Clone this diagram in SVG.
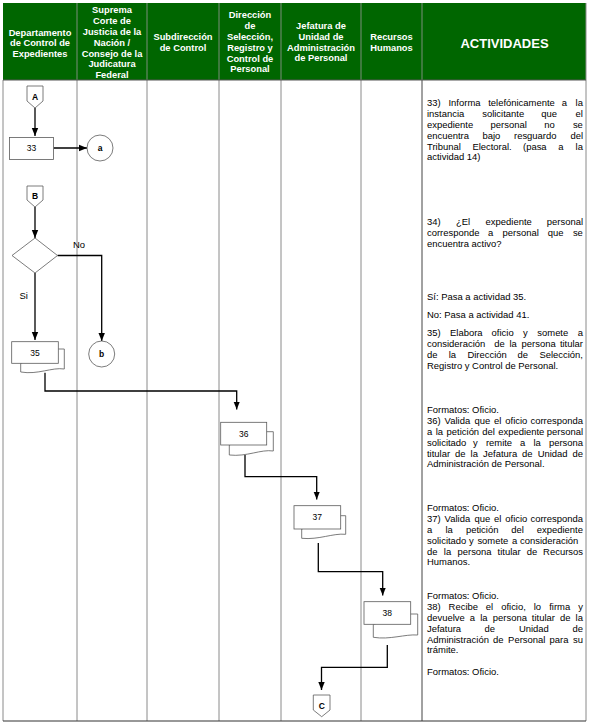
<svg xmlns="http://www.w3.org/2000/svg" width="590" height="725" viewBox="0 0 590 725">
<defs>
<style>
.hd{font-family:"Liberation Sans",Arial,sans-serif;font-weight:bold;font-size:9.33px;fill:#ffffff;text-anchor:middle}
.act{font-family:"Liberation Sans",Arial,sans-serif;font-size:9.45px;fill:#000000}
.lbl{font-family:"Liberation Sans",Arial,sans-serif;font-size:8.5px;fill:#000000;text-anchor:middle}
.con{font-family:"Liberation Sans",Arial,sans-serif;font-size:8.5px;font-weight:bold;fill:#000000;text-anchor:middle}
.shape{fill:#ffffff;stroke:#5a5a5a;stroke-width:0.8}
.flow{fill:none;stroke:#000000;stroke-width:1.3}
.col{stroke:#8a8a8a;stroke-width:1;fill:none}
</style>
<marker id="ah" viewBox="0 0 8 8" refX="8" refY="4" markerWidth="8" markerHeight="8" markerUnits="userSpaceOnUse" orient="auto">
<path d="M0,0.8 L8,4 L0,7.2 z" fill="#000000"/>
</marker>
</defs>
<rect width="590" height="725" fill="#ffffff"/>

<g id="table">
<rect x="3" y="3" width="583" height="77" fill="#006600"/>
<g stroke="#9a9a9a" stroke-width="0.8">
<line x1="77" y1="3" x2="77" y2="80"/>
<line x1="147" y1="3" x2="147" y2="80"/>
<line x1="219" y1="3" x2="219" y2="80"/>
<line x1="281" y1="3" x2="281" y2="80"/>
<line x1="361" y1="3" x2="361" y2="80"/>
<line x1="422" y1="3" x2="422" y2="80"/>
</g>
<g class="col">
<line x1="3" y1="80" x2="3" y2="721"/>
<line x1="77" y1="80" x2="77" y2="721"/>
<line x1="147" y1="80" x2="147" y2="721"/>
<line x1="219" y1="80" x2="219" y2="721"/>
<line x1="281" y1="80" x2="281" y2="721"/>
<line x1="361" y1="80" x2="361" y2="721"/>
<line x1="586" y1="3" x2="586" y2="721"/>
</g>
<line x1="422" y1="80" x2="422" y2="721" stroke="#444444" stroke-width="1"/>
<line x1="3" y1="80" x2="586" y2="80" stroke="#555555" stroke-width="1"/>
<line x1="3" y1="721" x2="586" y2="721" stroke="#333333" stroke-width="1.2"/>
</g>

<g id="header">
<text class="hd" x="40" y="35.6">Departamento</text>
<text class="hd" x="40" y="46.4">de Control de</text>
<text class="hd" x="40" y="57.2">Expedientes</text>
<text class="hd" x="112" y="13.3">Suprema</text>
<text class="hd" x="112" y="24.1">Corte de</text>
<text class="hd" x="112" y="34.9">Justicia de la</text>
<text class="hd" x="112" y="45.7">Nación /</text>
<text class="hd" x="112" y="56.5">Consejo de la</text>
<text class="hd" x="112" y="67.3">Judicatura</text>
<text class="hd" x="112" y="78.1">Federal</text>
<text class="hd" x="183" y="40.3">Subdirección</text>
<text class="hd" x="183" y="51.1">de Control</text>
<text class="hd" x="250" y="18.3">Dirección</text>
<text class="hd" x="250" y="29.1">de</text>
<text class="hd" x="250" y="39.9">Selección,</text>
<text class="hd" x="250" y="50.7">Registro y</text>
<text class="hd" x="250" y="61.5">Control de</text>
<text class="hd" x="250" y="72.3">Personal</text>
<text class="hd" x="321" y="29">Jefatura de</text>
<text class="hd" x="321" y="39.8">Unidad de</text>
<text class="hd" x="321" y="50.6">Administración</text>
<text class="hd" x="321" y="61.4">de Personal</text>
<text class="hd" x="391.5" y="40">Recursos</text>
<text class="hd" x="391.5" y="50.8">Humanos</text>
<text class="hd" x="504.5" y="47.5" style="font-size:13px">ACTIVIDADES</text>
</g>

<g id="connectors">
<path class="flow" d="M35,108 V136" marker-end="url(#ah)"/>
<path class="flow" d="M53.5,148 H87" marker-end="url(#ah)"/>
<path class="flow" d="M35,207 V238" marker-end="url(#ah)"/>
<path class="flow" d="M57.5,255.5 H101.7 V341" marker-end="url(#ah)"/>
<path class="flow" d="M35,273 V340" marker-end="url(#ah)"/>
<path class="flow" d="M45,372.7 V391 H236.7 V409.5" marker-end="url(#ah)"/>
<path class="flow" d="M245,455 V476.7 H316.7 V499.5" marker-end="url(#ah)"/>
<path class="flow" d="M318.3,543 V571.7 H382.7 V595.5" marker-end="url(#ah)"/>
<path class="flow" d="M387.3,645 V667.3 H321.5 V690" marker-end="url(#ah)"/>
<text class="act" x="73" y="248">No</text>
<text class="act" x="19.5" y="299">Si</text>
</g>

<g id="nodeA">
<polygon class="shape" points="27,86 43,86 43,101 35,108 27,101"/>
<text class="con" x="35" y="99.5">A</text>
</g>
<g id="node33">
<rect class="shape" x="9.5" y="137.5" width="44" height="22"/>
<text class="lbl" x="31.5" y="151.3">33</text>
</g>
<g id="nodea">
<circle class="shape" cx="100" cy="148" r="13"/>
<text class="con" x="100" y="151">a</text>
</g>
<g id="nodeB">
<polygon class="shape" points="27,186 43,186 43,200 35,207 27,200"/>
<text class="con" x="35" y="199">B</text>
</g>
<g id="node34">
<polygon class="shape" points="35,238 57.5,255.5 35,273 12,255.5"/>
</g>
<g id="nodeb">
<circle class="shape" cx="101.7" cy="354" r="13"/>
<text class="con" x="101.7" y="357">b</text>
</g>
<g id="node35">
<path class="shape" d="M58.3,349 H64.3 V369 C52,367 38,375 20.7,372 V363.3 Z"/>
<rect class="shape" x="11.7" y="341.7" width="46.6" height="21.6"/>
<text class="lbl" x="35" y="355.5">35</text>
</g>
<g id="node36">
<path class="shape" d="M266.7,431.7 H273.3 V451 C261,449 247,457 229.3,455 V445 Z"/>
<rect class="shape" x="220.7" y="422.3" width="46" height="22.7"/>
<text class="lbl" x="243.7" y="436.5">36</text>
</g>
<g id="node37">
<path class="shape" d="M340.7,515.7 H345.7 V534.3 C333,533 319,540 301.7,538.3 V529 Z"/>
<rect class="shape" x="294" y="505.7" width="46.7" height="23.3"/>
<text class="lbl" x="317.3" y="520.3">37</text>
</g>
<g id="node38">
<path class="shape" d="M410.7,614 H417.7 V635 C405,634 390,640 373.3,637.3 V624.3 Z"/>
<rect class="shape" x="364" y="601.7" width="46.7" height="22.6"/>
<text class="lbl" x="387.3" y="615.8">38</text>
</g>
<g id="nodeC">
<polygon class="shape" points="313.3,695 330,695 330,710 321.7,716.7 313.3,710"/>
<text class="con" x="321.7" y="708.5">C</text>
</g>

<g id="activities">
<text class="act" y="106.3"><tspan x="427">33)</tspan> <tspan x="448.5">Informa</tspan> <tspan x="488.2">telefónicamente</tspan> <tspan x="561.8">a</tspan> <tspan x="575.6">la</tspan></text>
<text class="act" y="117.1"><tspan x="427">instancia</tspan> <tspan x="482.2">solicitante</tspan> <tspan x="541.2">que</tspan> <tspan x="575.6">el</tspan></text>
<text class="act" y="127.9"><tspan x="427">expediente</tspan> <tspan x="490.6">personal</tspan> <tspan x="544.3">no</tspan> <tspan x="572.9">se</tspan></text>
<text class="act" y="138.7"><tspan x="427">encuentra</tspan> <tspan x="482.4">bajo</tspan> <tspan x="514">resguardo</tspan> <tspan x="570.4">del</tspan></text>
<text class="act" y="149.5"><tspan x="427">Tribunal</tspan> <tspan x="472.4">Electoral.</tspan> <tspan x="523">(pasa</tspan> <tspan x="558.3">a</tspan> <tspan x="575.6">la</tspan></text>
<text class="act" x="427" y="160.3">actividad 14)</text>

<text class="act" y="225.3"><tspan x="427">34)</tspan> <tspan x="456">¿El</tspan> <tspan x="485.6">expediente</tspan> <tspan x="546.8">personal</tspan></text>
<text class="act" y="236.1"><tspan x="427">corresponde</tspan> <tspan x="488">a</tspan> <tspan x="502.6">personal</tspan> <tspan x="547.7">que</tspan> <tspan x="572.9">se</tspan></text>
<text class="act" x="427" y="246.9">encuentra activo?</text>

<text class="act" x="427" y="300.3">Sí: Pasa a actividad 35.</text>
<text class="act" x="427" y="318.3">No: Pasa a actividad 41.</text>

<text class="act" y="336.3"><tspan x="427">35)</tspan> <tspan x="450">Elabora</tspan> <tspan x="491.6">oficio</tspan> <tspan x="523">y</tspan> <tspan x="537.3">somete</tspan> <tspan x="577.7">a</tspan></text>
<text class="act" y="347.1"><tspan x="427">consideración</tspan> <tspan x="494.3">de</tspan> <tspan x="509.5">la</tspan> <tspan x="521.6">persona</tspan> <tspan x="559.9">titular</tspan></text>
<text class="act" y="357.9"><tspan x="427">de</tspan> <tspan x="448.7">la</tspan> <tspan x="467.4">Dirección</tspan> <tspan x="517.5">de</tspan> <tspan x="539.4">Selección,</tspan></text>
<text class="act" x="427" y="368.7">Registro y Control de Personal.</text>

<text class="act" x="427" y="413.3">Formatos: Oficio.</text>
<text class="act" y="424.1"><tspan x="427">36)</tspan> <tspan x="444.6">Valida</tspan> <tspan x="474.6">que</tspan> <tspan x="494.1">el</tspan> <tspan x="505.3">oficio</tspan> <tspan x="530.5">corresponda</tspan></text>
<text class="act" y="434.9"><tspan x="427">a</tspan> <tspan x="435.7">la</tspan> <tspan x="446.6">petición</tspan> <tspan x="482.2">del</tspan> <tspan x="498.2">expediente</tspan> <tspan x="546.8">personal</tspan></text>
<text class="act" y="445.7"><tspan x="427">solicitado</tspan> <tspan x="473">y</tspan> <tspan x="485.9">remite</tspan> <tspan x="520">a</tspan> <tspan x="533.5">la</tspan> <tspan x="548.9">persona</tspan></text>
<text class="act" y="456.5"><tspan x="427">titular</tspan> <tspan x="455">de</tspan> <tspan x="470.6">la</tspan> <tspan x="483.1">Jefatura</tspan> <tspan x="522.1">de</tspan> <tspan x="537.7">Unidad</tspan> <tspan x="572.5">de</tspan></text>
<text class="act" x="427" y="467.3">Administración de Personal.</text>

<text class="act" x="427" y="511.3">Formatos: Oficio.</text>
<text class="act" y="522.1"><tspan x="427">37)</tspan> <tspan x="444.6">Valida</tspan> <tspan x="474.6">que</tspan> <tspan x="494.1">el</tspan> <tspan x="505.3">oficio</tspan> <tspan x="530.5">corresponda</tspan></text>
<text class="act" y="532.9"><tspan x="427">a</tspan> <tspan x="445.4">la</tspan> <tspan x="465.9">petición</tspan> <tspan x="511.3">del</tspan> <tspan x="536.8">expediente</tspan></text>
<text class="act" y="543.7"><tspan x="427">solicitado</tspan> <tspan x="468.9">y</tspan> <tspan x="477.4">somete</tspan> <tspan x="511.9">a</tspan> <tspan x="520">consideración</tspan></text>
<text class="act" y="554.5"><tspan x="427">de</tspan> <tspan x="443.8">la</tspan> <tspan x="457.5">persona</tspan> <tspan x="497.6">titular</tspan> <tspan x="526.8">de</tspan> <tspan x="543.1">Recursos</tspan></text>
<text class="act" x="427" y="565.3">Humanos.</text>

<text class="act" x="427" y="599.3">Formatos: Oficio.</text>
<text class="act" y="610.1"><tspan x="427">38)</tspan> <tspan x="448.6">Recibe</tspan> <tspan x="485.8">el</tspan> <tspan x="501.2">oficio,</tspan> <tspan x="533.7">lo</tspan> <tspan x="549.2">firma</tspan> <tspan x="578.3">y</tspan></text>
<text class="act" y="620.9"><tspan x="427">devuelve</tspan> <tspan x="469.7">a</tspan> <tspan x="480.2">la</tspan> <tspan x="492.8">persona</tspan> <tspan x="531.8">titular</tspan> <tspan x="559.9">de</tspan> <tspan x="575.6">la</tspan></text>
<text class="act" y="631.7"><tspan x="427">Jefatura</tspan> <tspan x="484.6">de</tspan> <tspan x="518.9">Unidad</tspan> <tspan x="572.5">de</tspan></text>
<text class="act" y="642.5"><tspan x="427">Administración</tspan> <tspan x="493">de</tspan> <tspan x="508.1">Personal</tspan> <tspan x="549.5">para</tspan> <tspan x="573">su</tspan></text>
<text class="act" x="427" y="653.3">trámite.</text>

<text class="act" x="427" y="674.9">Formatos: Oficio.</text>
</g>
</svg>
